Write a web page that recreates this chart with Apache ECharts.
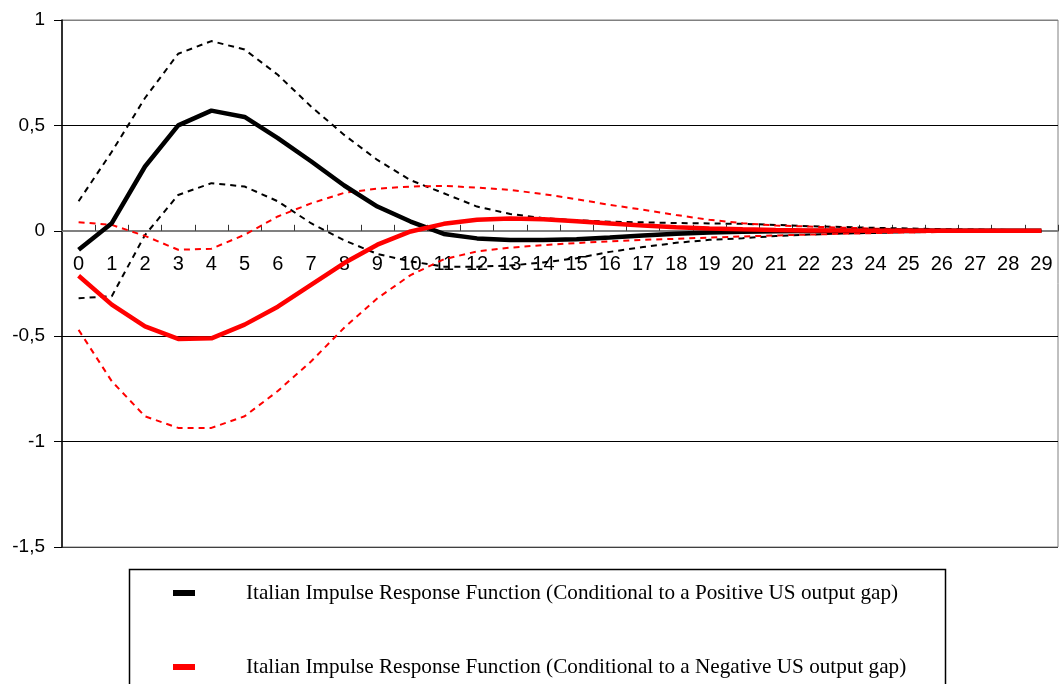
<!DOCTYPE html>
<html>
<head>
<meta charset="utf-8">
<script src="https://cdn.jsdelivr.net/npm/echarts@6/dist/echarts.min.js"></script>
<style>
  html, body { margin: 0; padding: 0; background: #fff; }
  #chart { width: 1061px; height: 684px; }
</style>
</head>
<body>
<div id="chart"></div>
<script>
// Horizon (periods after the shock)
const periods = ['0','1','2','3','4','5','6','7','8','9','10','11','12','13','14','15','16','17','18','19','20','21','22','23','24','25','26','27','28','29'];

// Y-axis tick values
const yTicks = [-1.5, -1, -0.5, 0, 0.5, 1];

// Italian IRF conditional to a positive US output gap, with confidence bands
const posIrf = [-0.09, 0.036, 0.305, 0.50, 0.57, 0.54, 0.44, 0.33, 0.215, 0.115, 0.044, -0.015, -0.036, -0.044, -0.044, -0.04, -0.032, -0.022, -0.014, -0.008, -0.004, -0.002, -0.001, 0, 0, 0, 0, 0, 0, 0];
const posUpper = [0.14, 0.375, 0.63, 0.84, 0.90, 0.86, 0.74, 0.59, 0.455, 0.336, 0.24, 0.178, 0.115, 0.08, 0.06, 0.05, 0.043, 0.04, 0.037, 0.035, 0.033, 0.028, 0.022, 0.018, 0.014, 0.011, 0.008, 0.006, 0.004, 0.003];
const posLower = [-0.32, -0.31, -0.02, 0.17, 0.226, 0.21, 0.14, 0.036, -0.045, -0.11, -0.145, -0.17, -0.17, -0.165, -0.15, -0.13, -0.10, -0.077, -0.057, -0.043, -0.035, -0.025, -0.018, -0.013, -0.01, -0.007, -0.005, -0.004, -0.003, -0.002];

// Italian IRF conditional to a negative US output gap, with confidence bands
const negIrf = [-0.213, -0.35, -0.453, -0.513, -0.51, -0.445, -0.36, -0.256, -0.153, -0.066, -0.003, 0.033, 0.052, 0.058, 0.055, 0.045, 0.035, 0.025, 0.017, 0.011, 0.007, 0.004, 0.002, 0.001, 0, 0, 0, 0, 0, 0];
const negUpper = [0.041, 0.028, -0.024, -0.09, -0.085, -0.019, 0.068, 0.13, 0.18, 0.20, 0.21, 0.213, 0.205, 0.194, 0.174, 0.15, 0.123, 0.1, 0.075, 0.052, 0.036, 0.025, 0.02, 0.015, 0.01, 0.007, 0.005, 0.003, 0.002, 0.001];
const negLower = [-0.47, -0.714, -0.88, -0.935, -0.935, -0.88, -0.76, -0.62, -0.46, -0.32, -0.21, -0.135, -0.098, -0.08, -0.068, -0.058, -0.05, -0.043, -0.038, -0.032, -0.027, -0.022, -0.018, -0.014, -0.011, -0.008, -0.006, -0.004, -0.003, -0.002];

const posName = 'Italian Impulse Response Function (Conditional to a Positive US output gap)';
const negName = 'Italian Impulse Response Function (Conditional to a Negative US output gap)';

// Plot box
const gridTop = 20, gridBottom = 137, chartHeight = 684;
const plotHeight = chartHeight - gridTop - gridBottom;
const yMin = yTicks[0], yMax = yTicks[yTicks.length - 1];
// lift the category axis from the bottom edge up to the zero line
const zeroOffset = -plotHeight * (0 - yMin) / (yMax - yMin);

const chart = echarts.init(document.getElementById('chart'), null, { renderer: 'canvas' });

function band(name, data, color) {
  return {
    name: name, type: 'line', data: data, symbol: 'none', smooth: false,
    color: color,
    lineStyle: { color: color, width: 2, type: [6, 5] },
    silent: true, z: 2
  };
}

chart.setOption({
  animation: false,
  backgroundColor: '#fff',
  grid: {
    left: 62, right: 3, top: gridTop, bottom: gridBottom,
    show: true, borderColor: '#808080', borderWidth: 1, backgroundColor: 'transparent'
  },
  legend: {
    data: [posName, negName],
    orient: 'vertical',
    left: 173, top: 581, height: 103,
    padding: 0,
    icon: 'rect', itemWidth: 22, itemHeight: 6, itemGap: 50,
    selectedMode: false,
    textStyle: {
      fontFamily: 'Liberation Serif', fontSize: 21.2, color: '#000',
      lineHeight: 24, padding: [0, 0, 0, 46]
    }
  },
  xAxis: {
    type: 'category',
    data: periods,
    boundaryGap: true,
    position: 'bottom',
    offset: zeroOffset,
    axisLine: { onZero: false, lineStyle: { color: '#808080', width: 2 } },
    axisTick: { show: true, inside: true, length: 6, lineStyle: { color: '#333', width: 1 } },
    axisLabel: { color: '#000', fontFamily: 'Liberation Sans', fontSize: 20, margin: 24, interval: 0 },
    splitLine: { show: false }
  },
  yAxis: {
    type: 'value',
    min: yMin, max: yMax, interval: 0.5,
    axisLine: { show: true, lineStyle: { color: '#000', width: 1.5 } },
    axisTick: { show: true, length: 8, lineStyle: { color: '#000' } },
    axisLabel: {
      color: '#000', fontFamily: 'Liberation Sans', fontSize: 19, margin: 17,
      formatter: function (v) { return String(v).replace('.', ','); }
    },
    splitLine: { show: true, lineStyle: { color: ['#404040', '#000', '#000', '#000', '#000', '#808080'], width: 1 } }
  },
  graphic: [{
    type: 'rect', silent: true, z: 0,
    shape: { x: 129.5, y: 569.5, width: 816, height: 140 },
    style: { fill: 'none', stroke: '#000', lineWidth: 1.5 }
  }],
  series: [
    band('posUpper', posUpper, '#000'),
    band('posLower', posLower, '#000'),
    { name: posName, type: 'line', data: posIrf, symbol: 'none', color: '#000',
      lineStyle: { color: '#000', width: 4.5 }, z: 3 },
    band('negUpper', negUpper, '#ff0000'),
    band('negLower', negLower, '#ff0000'),
    { name: negName, type: 'line', data: negIrf, symbol: 'none', color: '#ff0000',
      lineStyle: { color: '#ff0000', width: 4.5 }, z: 4 }
  ]
});
</script>
</body>
</html>
